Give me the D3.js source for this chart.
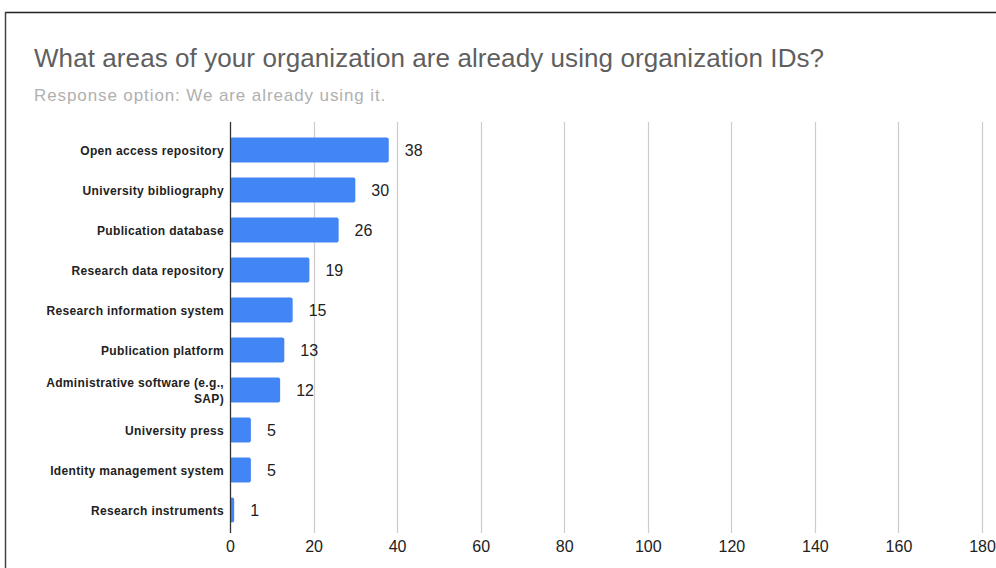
<!DOCTYPE html>
<html><head><meta charset="utf-8">
<script src="https://cdn.jsdelivr.net/npm/d3@7/dist/d3.min.js"></script>
<style>body{margin:0;background:#fff;}svg{display:block;}</style>
</head><body><svg id="c" width="996" height="568"></svg>
<script>
const categories = ["Open access repository","University bibliography","Publication database","Research data repository","Research information system","Publication platform","Administrative software (e.g., SAP)","University press","Identity management system","Research instruments"];
const values = [38,30,26,19,15,13,12,5,5,1];
const xTicks = [0,20,40,60,80,100,120,140,160,180];
const title = "What areas of your organization are already using organization IDs?";
const subtitle = "Response option: We are already using it.";

const svg = d3.select("#c");
// frame
svg.append("line").attr("x1",5).attr("x2",996).attr("y1",12.5).attr("y2",12.5).attr("stroke","#222").attr("stroke-width",1.5);
svg.append("line").attr("x1",5.5).attr("x2",5.5).attr("y1",12).attr("y2",568).attr("stroke","#444").attr("stroke-width",1.5);

svg.append("text").attr("x",34).attr("y",67).text(title)
  .attr("font-family","Liberation Sans, Arial, sans-serif").attr("font-size",26).attr("letter-spacing","0.08px").attr("fill","#5f5f5f");
svg.append("text").attr("x",34).attr("y",101).text(subtitle)
  .attr("font-family","Liberation Sans, Arial, sans-serif").attr("font-size",17).attr("letter-spacing","0.9px").attr("fill","#b0b0b0");

const x = d3.scaleLinear().domain([0,180]).range([230,982]);
const y = d3.scaleBand().domain(categories).range([130,530]).paddingInner(0.375).paddingOuter(0.1875);

const gTop = 122, gBot = 533;
svg.append("g").selectAll("line").data(xTicks.filter(t=>t>0)).join("line")
  .attr("x1",d=>Math.round(x(d))+0.5).attr("x2",d=>Math.round(x(d))+0.5)
  .attr("y1",gTop).attr("y2",gBot).attr("stroke","#cccccc").attr("stroke-width",1.2);

svg.append("g").selectAll("rect").data(values).join("rect")
  .attr("x",x(0)).attr("y",(d,i)=>y(categories[i]))
  .attr("width",d=>x(d)-x(0)).attr("height",y.bandwidth())
  .attr("rx",2).attr("fill","#4285f4");

svg.append("line").attr("x1",230.5).attr("x2",230.5).attr("y1",gTop).attr("y2",gBot).attr("stroke","#333").attr("stroke-width",1.3);

svg.append("g").selectAll("text").data(values).join("text")
  .attr("x",d=>x(d)+16).attr("y",(d,i)=>y(categories[i])+y.bandwidth()/2+6)
  .text(d=>d).attr("font-family","Liberation Sans, Arial, sans-serif").attr("font-size",16).attr("fill","#222");

const lab = svg.append("g").attr("font-family","Liberation Sans, Arial, sans-serif").attr("font-size",12)
  .attr("font-weight","bold").attr("fill","#222").attr("letter-spacing","0.35px").attr("text-anchor","end");
categories.forEach((c,i)=>{
  const cy = y(c)+y.bandwidth()/2;
  if (c.indexOf("(e.g.,")>=0){
    const t = lab.append("text").attr("x",224).attr("y",cy-3);
    t.append("tspan").attr("x",224).attr("dy",0).text("Administrative software (e.g.,");
    t.append("tspan").attr("x",224).attr("dy",16).text("SAP)");
  } else {
    lab.append("text").attr("x",224).attr("y",cy+4.5).text(c);
  }
});

const xAxis = d3.axisBottom(x).tickValues(xTicks).tickSize(0).tickPadding(0);
const ax = svg.append("g").attr("transform","translate(0,541)").call(xAxis);
ax.select(".domain").remove();
ax.selectAll("text").attr("font-family","Liberation Sans, Arial, sans-serif").attr("font-size",16).attr("fill","#222").attr("dy","0.71em");
</script></body></html>
